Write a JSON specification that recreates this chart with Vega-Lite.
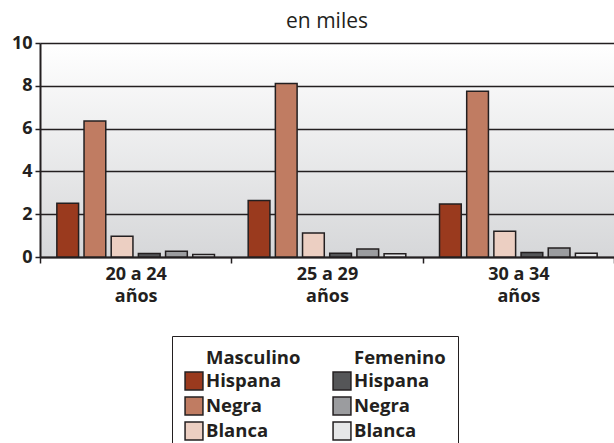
{
  "$schema": "https://vega.github.io/schema/vega-lite/v6.json",
  "width": 574,
  "height": 214,
  "padding": {"left": 11, "top": 11, "right": 0, "bottom": 0},
  "background": "white",
  "title": {"text": "en miles", "fontSize": 21, "fontWeight": "normal", "font": "Open Sans", "color": "#231f20", "frame": "group", "anchor": "middle", "offset": 2},
  "view": {"stroke": null, "fill": {"gradient": "linear", "x1": 0, "y1": 0, "x2": 0, "y2": 1, "stops": [{"offset": 0, "color": "#ffffff"}, {"offset": 1, "color": "#d6d7d9"}]}},
  "data": {"values": [
    {"grupo": "20 a 24", "serie": "M Hispana", "valor": 2.51},
    {"grupo": "20 a 24", "serie": "M Negra", "valor": 6.36},
    {"grupo": "20 a 24", "serie": "M Blanca", "valor": 0.97},
    {"grupo": "20 a 24", "serie": "F Hispana", "valor": 0.16},
    {"grupo": "20 a 24", "serie": "F Negra", "valor": 0.27},
    {"grupo": "20 a 24", "serie": "F Blanca", "valor": 0.12},
    {"grupo": "25 a 29", "serie": "M Hispana", "valor": 2.64},
    {"grupo": "25 a 29", "serie": "M Negra", "valor": 8.11},
    {"grupo": "25 a 29", "serie": "M Blanca", "valor": 1.12},
    {"grupo": "25 a 29", "serie": "F Hispana", "valor": 0.18},
    {"grupo": "25 a 29", "serie": "F Negra", "valor": 0.37},
    {"grupo": "25 a 29", "serie": "F Blanca", "valor": 0.15},
    {"grupo": "30 a 34", "serie": "M Hispana", "valor": 2.48},
    {"grupo": "30 a 34", "serie": "M Negra", "valor": 7.75},
    {"grupo": "30 a 34", "serie": "M Blanca", "valor": 1.2},
    {"grupo": "30 a 34", "serie": "F Hispana", "valor": 0.21},
    {"grupo": "30 a 34", "serie": "F Negra", "valor": 0.42},
    {"grupo": "30 a 34", "serie": "F Blanca", "valor": 0.18}
  ]},
  "mark": {"type": "bar", "stroke": "#231f20", "strokeWidth": 1.5},
  "encoding": {
    "x": {"field": "grupo", "type": "nominal", "scale": {"paddingInner": 0, "paddingOuter": 0},
      "axis": {"title": null, "labelAngle": 0, "tickBand": "extent", "tickSize": 6, "tickColor": "#231f20", "tickWidth": 1.5,
        "domainColor": "#231f20", "domainWidth": 2, "labelFont": "Open Sans", "labelFontSize": 18, "labelFontWeight": "bold",
        "labelColor": "#231f20", "labelPadding": 2, "labelLineHeight": 22, "labelExpr": "datum.label ? [datum.label, 'años'] : ''"}},
    "xOffset": {"field": "serie", "type": "nominal",
      "scale": {"domain": ["M Hispana", "M Negra", "M Blanca", "F Hispana", "F Negra", "F Blanca"], "paddingInner": 0.2, "paddingOuter": 0.62}},
    "y": {"field": "valor", "type": "quantitative", "scale": {"domain": [0, 10], "nice": false},
      "axis": {"title": null, "values": [0, 2, 4, 6, 8, 10], "grid": true, "gridColor": "#231f20", "gridWidth": 1.4,
        "domainColor": "#231f20", "domainWidth": 2, "tickColor": "#231f20", "tickSize": 5, "tickWidth": 1.5,
        "labelFont": "Open Sans", "labelFontSize": 18, "labelFontWeight": "bold", "labelColor": "#231f20", "labelPadding": 3}},
    "color": {"field": "serie", "type": "nominal",
      "scale": {"domain": ["Masculino", "Femenino", "M Hispana", "F Hispana", "M Negra", "F Negra", "M Blanca", "F Blanca"],
        "range": ["transparent", "transparent", "#9a3a1e", "#555658", "#c07c62", "#9b9c9f", "#eccfc2", "#e6e7e8"]},
      "legend": {"title": null, "orient": "none", "legendX": 132, "legendY": 293, "direction": "horizontal", "columns": 2,
        "symbolType": "square", "symbolSize": 320, "symbolStrokeColor": "#231f20", "symbolStrokeWidth": 1.5, "symbolOpacity": 1,
        "labelFont": "Open Sans", "labelFontSize": 18.5, "labelFontWeight": "bold", "labelColor": "#231f20", "labelOffset": 2,
        "rowPadding": 1, "columnPadding": 29, "padding": 12, "fillColor": "white", "strokeColor": "#231f20",
        "labelExpr": "datum.value == 'Masculino' || datum.value == 'Femenino' ? datum.value : substring(datum.value, 2)",
        "encode": {"symbols": {"update": {"strokeOpacity": {"signal": "datum.value == 'Masculino' || datum.value == 'Femenino' ? 0 : 1"}}}}}}
  }
}
